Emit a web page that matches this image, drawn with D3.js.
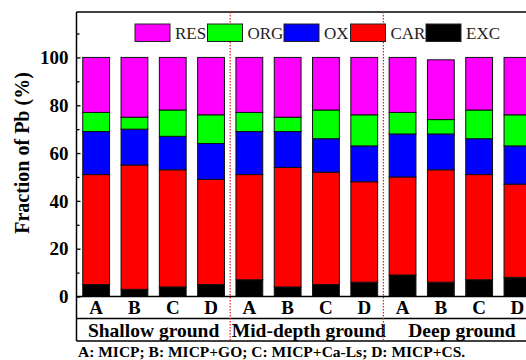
<!DOCTYPE html>
<html><head><meta charset="utf-8">
<script src="https://cdn.jsdelivr.net/npm/d3@7"></script>
<style>body{margin:0;background:#fff;overflow:hidden}svg{display:block}</style>
</head><body><svg id="c" width="526" height="360"></svg>
<script>
const groups = ["Shallow ground", "Mid-depth ground", "Deep ground"];
const treatments = ["A", "B", "C", "D"];
const fractions = ["RES", "ORG", "OX", "CAR", "EXC"];
const colors = ["#ff00ff", "#00ff00", "#0000ff", "#ff0000", "#000000"];
// values per bar (Shallow A..D, Mid A..D, Deep A..D)
const EXC = [5, 3, 4, 5, 7, 4, 5, 6, 9, 6, 7, 8];
const CAR = [46, 52, 49, 44, 44, 50, 47, 42, 41, 47, 44, 39];
const OX  = [18, 15, 14, 15, 18, 15, 14, 15, 18, 15, 15, 16];
const ORG = [8, 5, 11, 12, 8, 6, 12, 13, 9, 6, 12, 13];
const RES = [23, 25, 22, 24, 23, 25, 22, 24, 23, 25, 22, 24];
const yMajor = [0, 20, 40, 60, 80, 100];
const yMinor = [10, 30, 50, 70, 90, 110];
const caption = "A: MICP; B: MICP+GO; C: MICP+Ca-Ls; D: MICP+CS.";

const keys = [];
groups.forEach((g, gi) => treatments.forEach(t => keys.push(gi + "-" + t)));
const rows = keys.map((k, i) => ({key: k, EXC: EXC[i], CAR: CAR[i], OX: OX[i], ORG: ORG[i], RES: RES[i]}));

const svg = d3.select("#c");
const serif = "'Liberation Serif','Times New Roman',serif";
const L = 76.5, T = 12, B = 296.5, R = 536.6;
const x = d3.scaleBand().domain(keys).range([L + 0.5, R]).paddingInner(0.3).paddingOuter(0.15);
const y = d3.scaleLinear().domain([0, 119]).range([B, T]);

// stacked bars (bottom EXC upward)
const stack = d3.stack().keys(["EXC", "CAR", "OX", "ORG", "RES"])(rows);
const colorOf = d3.scaleOrdinal().domain(fractions).range(colors);
svg.append("g").selectAll("g").data(stack).join("g")
  .attr("fill", d => colorOf(d.key))
  .selectAll("rect").data(d => d).join("rect")
  .attr("x", d => x(d.data.key)).attr("width", x.bandwidth())
  .attr("y", d => y(d[1])).attr("height", d => y(d[0]) - y(d[1]))
  .attr("stroke", "#111").attr("stroke-width", 1);

// frame
const rowLine1 = 318.5, rowLine2 = 341;
svg.append("line").attr("x1", L).attr("x2", 526).attr("y1", T).attr("y2", T).attr("stroke", "#000").attr("stroke-width", 1.5);
svg.append("line").attr("x1", L).attr("x2", L).attr("y1", T).attr("y2", rowLine2).attr("stroke", "#000").attr("stroke-width", 1.5);
[B, rowLine1, rowLine2].forEach(yy => svg.append("line").attr("x1", L).attr("x2", 526).attr("y1", yy).attr("y2", yy).attr("stroke", "#000").attr("stroke-width", 1.5));

// y axis
const yAxis = d3.axisLeft(y).tickValues(yMajor).tickSize(-4).tickPadding(8).tickFormat(d3.format("d"));
const ga = svg.append("g").attr("transform", `translate(${L},0)`).call(yAxis);
ga.select(".domain").remove();
ga.selectAll("line").attr("stroke", "#000").attr("stroke-width", 1.3);
ga.selectAll("text").attr("font-family", serif).attr("font-weight", "bold").attr("font-size", 19).attr("fill", "#000").attr("dy", "0.33em");
const gm = svg.append("g").attr("transform", `translate(${L},0)`).call(d3.axisLeft(y).tickValues(yMinor).tickSize(-3).tickFormat(""));
gm.select(".domain").remove();
gm.selectAll("line").attr("stroke", "#000").attr("stroke-width", 1.3);

svg.append("text").attr("transform", "translate(29,153) rotate(-90)")
  .attr("text-anchor", "middle").attr("font-family", serif).attr("font-weight", "bold").attr("font-size", 20)
  .text("Fraction of Pb (%)");

// x treatment labels
svg.append("g").selectAll("text").data(keys).join("text")
  .attr("x", k => x(k) + x.bandwidth() / 2).attr("y", 314)
  .attr("text-anchor", "middle").attr("font-family", serif).attr("font-weight", "bold").attr("font-size", 19)
  .text(k => k.split("-")[1]);

// group labels
const step = x.step();
svg.append("g").selectAll("text").data(groups).join("text")
  .attr("x", (g, i) => x(i + "-A") - step * 0.15 + step * 2 + (i === 0 ? 0 : 2))
  .attr("y", 336.5)
  .attr("text-anchor", "middle").attr("font-family", serif).attr("font-weight", "bold").attr("font-size", 19.5)
  .text(g => g);

// separators
[1, 2].forEach(i => {
  const sx = x(i + "-A") - step * 0.15;
  svg.append("line").attr("x1", sx).attr("x2", sx).attr("y1", T).attr("y2", rowLine2)
    .attr("stroke", "#e02020").attr("stroke-width", 1.2).attr("stroke-dasharray", "1.5,1.5");
});

// legend
const legX = [135, 207.5, 284, 350.5, 426];
const lg = svg.append("g").selectAll("g").data(fractions).join("g")
  .attr("transform", (d, i) => `translate(${legX[i]},24)`);
lg.append("rect").attr("width", 35).attr("height", 17.5).attr("fill", d => colorOf(d)).attr("stroke", "#222").attr("stroke-width", 1);
lg.append("text").attr("x", 40).attr("y", 14.5).attr("font-family", serif).attr("font-size", 17).attr("fill", "#222").text(d => d);

// caption
svg.append("text").attr("x", 78).attr("y", 357).attr("font-family", serif).attr("font-weight", "bold").attr("font-size", 15.5).text(caption);
</script></body></html>
